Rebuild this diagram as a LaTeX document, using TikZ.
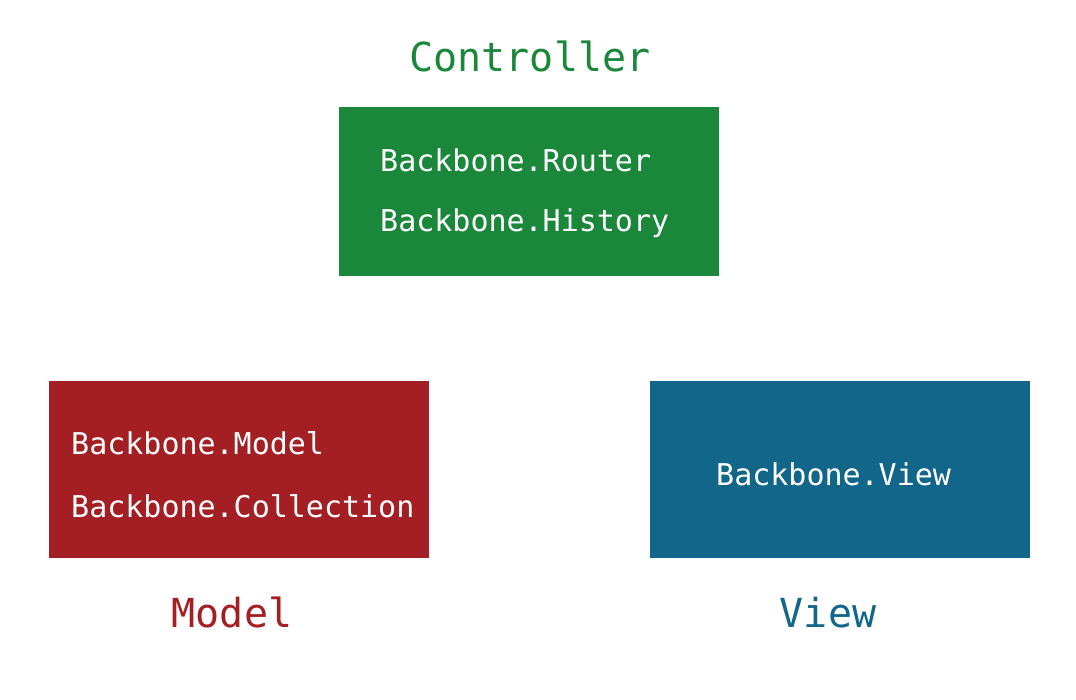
\documentclass[tikz,border=0pt]{standalone}
\usepackage{fontspec}
\setmonofont{DejaVu Sans Mono}
\definecolor{cgreen}{HTML}{1B873B}
\definecolor{cred}{HTML}{A31F24}
\definecolor{cblue}{HTML}{12668A}
\begin{document}
\begin{tikzpicture}[x=1pt,y=-1pt,
  box/.style={draw=none,inner sep=0,minimum width=380pt,anchor=north west},
  inner/.style={text=white,inner sep=0,anchor=base west,font=\ttfamily\fontsize{30}{30}\selectfont},
  title/.style={inner sep=0,anchor=base,font=\ttfamily\fontsize{40}{40}\selectfont}]
\useasboundingbox (0,0) rectangle (1076,700);
\fill[white] (0,0) rectangle (1076,700);
% boxes
\node[box,fill=cgreen,minimum height=169pt] (cbox) at (339,107) {};
\node[box,fill=cred,minimum height=177pt] (mbox) at (49,381) {};
\node[box,fill=cblue,minimum height=177pt] (vbox) at (650,381) {};
% titles
\node[title,text=cgreen] (ctitle) at (530,72) {Controller};
\node[title,text=cred] (mtitle) at (232,627) {Model};
\node[title,text=cblue] (vtitle) at (828,627) {View};
% inner texts
\node[inner] (router) at (380,172) {Backbone.Router};
\node[inner] (history) at (380,232) {Backbone.History};
\node[inner] (model) at (71,454) {Backbone.Model};
\node[inner] (coll) at (71,517) {Backbone.Collection};
\node[inner] (view) at (716,485) {Backbone.View};
\end{tikzpicture}
\end{document}
